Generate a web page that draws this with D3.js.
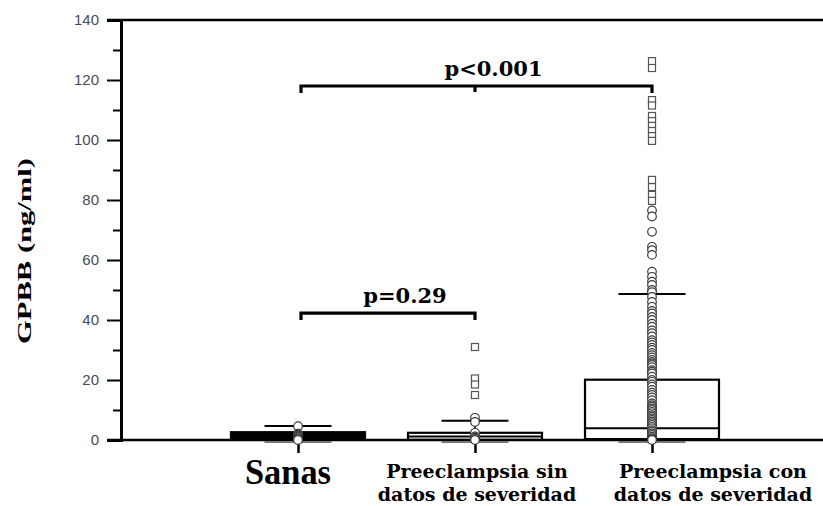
<!DOCTYPE html>
<html>
<head>
<meta charset="utf-8">
<script src="https://cdn.jsdelivr.net/npm/d3@7"></script>
<style>
  body { margin: 0; background: #fff; }
  svg { display: block; }
</style>
</head>
<body>
<div id="chart-area"></div>
<script>
// groups
const categories = ["Sanas", "Preeclampsia sin datos de severidad", "Preeclampsia con datos de severidad"];
const labelLines = [["Sanas"], ["Preeclampsia sin", "datos de severidad"], ["Preeclampsia con", "datos de severidad"]];

// box statistics (ng/ml)
const q1 = [0.2, 0.1, 0.3];
const median = [1.2, 1.2, 3.9];
const q3 = [2.6, 2.4, 20.1];
const whiskerHigh = [4.7, 6.4, 48.7];
const whiskerLow = [-0.7, -0.7, -0.7];

// individual values (circles) and outliers (squares)
const pointsSanas = [4.6, 2.1, 1.8, 1.5, 1.2, 0.9, 0.6, 0.3, 0];
const pointsSin = [7.4, 6.0, 2.4, 1.2, 0.8, 0.4, 0];
const pointsCon = [76.5, 74.5, 69.4, 64.4, 63.3, 61.7, 56.1, 54.4, 52.8, 51.7, 50, 49.3, 47.7,
  46, 44.4, 43, 42.2, 41, 40, 38.8, 37.8, 36.5, 35.6, 34.5, 33.3, 32.5, 31.7, 30.8, 30, 29,
  28.3, 27.5, 26.7, 26, 25.5, 25, 24.3, 23.3, 22.8, 22.2, 21.1, 20, 19.4, 18.5, 17.8, 16.7,
  15.8, 15, 14.2, 13.3, 12.2, 11.6, 11.1, 10.5, 10, 9.4, 8.9, 8.3, 7.8, 7.2, 6.7, 6.1, 5.6,
  5, 4.4, 3.9, 3.3, 2.8, 2.2, 1.7, 1.1, 0.6, 0.3, 0];
const outliersSanas = [];
const outliersSin = [31, 20.5, 18.5, 15];
const outliersCon = [126.3, 124, 113.3, 111.5, 108, 106.3, 104.7, 103, 101.3, 99.7, 86.7, 84.3, 81.7, 79.7];

const points = [pointsSanas, pointsSin, pointsCon];
const outliers = [outliersSanas, outliersSin, outliersCon];

// axis
const yTicks = [0, 20, 40, 60, 80, 100, 120, 140];
const yMinorTicks = [10, 30, 50, 70, 90, 110, 130];

// comparisons
const comparisons = [
  {from: 0, to: 2, mid: 1, value: 118, label: "p<0.001"},
  {from: 0, to: 1, mid: null, value: 42.3, label: "p=0.29"}
];

const boxFill = ["#000", "#fff", "#fff"];

const W = 823, H = 506;
const plotLeft = 121, plotTop = 20, plotBottom = 440;

const svg = d3.select('#chart-area')
  .append('svg')
  .attr('width', W)
  .attr('height', H);

const y = d3.scaleLinear().domain([0, 140]).range([plotBottom, plotTop]);
const x = d3.scalePoint()
  .domain(["_start", ...categories, "_end"])
  .range([plotLeft, 829]);

const step = x.step();
const boxW = step * 0.757;
const capW = boxW / 2;

// frame lines
svg.append('line').attr('x1', 107).attr('x2', W).attr('y1', y(140)).attr('y2', y(140))
  .attr('stroke', '#000').attr('stroke-width', 2.5);
svg.append('line').attr('x1', 107).attr('x2', W).attr('y1', y(0)).attr('y2', y(0))
  .attr('stroke', '#000').attr('stroke-width', 2.5);

// y axis
const yAxis = d3.axisLeft(y).tickValues(yTicks).tickSize(14).tickPadding(8);
const gy = svg.append('g')
  .attr('transform', `translate(${plotLeft},0)`)
  .call(yAxis);
gy.select('.domain').attr('stroke-width', 3);
gy.selectAll('.tick line').attr('stroke-width', 2);
gy.selectAll('.tick text')
  .attr('font-family', 'Arial, "Liberation Sans", sans-serif')
  .attr('font-size', 15)
  .attr('fill', '#4a4a58');

svg.append('g')
  .attr('transform', `translate(${plotLeft},0)`)
  .call(d3.axisLeft(y).tickValues(yMinorTicks).tickSize(8).tickFormat(''))
  .call(g => g.select('.domain').remove())
  .selectAll('.tick line').attr('stroke-width', 2);

// x ticks down at category centers
svg.append('g')
  .attr('transform', `translate(0,${plotBottom})`)
  .call(d3.axisBottom(x).tickValues(categories).tickSize(13).tickFormat(''))
  .call(g => g.select('.domain').remove())
  .selectAll('.tick line').attr('stroke-width', 2.5);

// y title
svg.append('text')
  .attr('transform', `translate(31,${y(63)}) rotate(-90)`)
  .attr('text-anchor', 'middle')
  .attr('font-family', '"Liberation Serif", "Times New Roman", serif')
  .attr('font-weight', 'bold')
  .attr('font-size', 19)
  .attr('textLength', 186)
  .attr('lengthAdjust', 'spacingAndGlyphs')
  .text('GPBB (ng/ml)');

// boxes
const groups = svg.selectAll('.grp')
  .data(categories)
  .enter()
  .append('g')
  .attr('class', 'grp');

groups.each(function(c, i) {
  const g = d3.select(this);
  const cx = x(c);
  // whisker stems
  g.append('line').attr('x1', cx).attr('x2', cx)
    .attr('y1', y(whiskerHigh[i])).attr('y2', y(whiskerLow[i]))
    .attr('stroke', '#000').attr('stroke-width', 1.5);
  // caps
  g.append('line').attr('x1', cx - capW / 2).attr('x2', cx + capW / 2)
    .attr('y1', y(whiskerHigh[i])).attr('y2', y(whiskerHigh[i]))
    .attr('stroke', '#000').attr('stroke-width', 2);
  g.append('line').attr('x1', cx - capW / 2).attr('x2', cx + capW / 2)
    .attr('y1', y(whiskerLow[i])).attr('y2', y(whiskerLow[i]))
    .attr('stroke', '#777').attr('stroke-width', 2);
  // box
  g.append('rect')
    .attr('x', cx - boxW / 2)
    .attr('y', y(q3[i]))
    .attr('width', boxW)
    .attr('height', y(q1[i]) - y(q3[i]))
    .attr('fill', boxFill[i])
    .attr('stroke', '#000').attr('stroke-width', 2.2);
  g.append('line').attr('x1', cx - boxW / 2).attr('x2', cx + boxW / 2)
    .attr('y1', y(median[i])).attr('y2', y(median[i]))
    .attr('stroke', '#000').attr('stroke-width', 2);

  // circles
  g.selectAll('circle')
    .data(points[i])
    .enter()
    .append('circle')
    .attr('cx', cx)
    .attr('cy', d => y(d))
    .attr('r', 4.3)
    .attr('fill', '#fff')
    .attr('stroke', '#3a3a3a')
    .attr('stroke-width', 1.2);

  // outlier squares
  g.selectAll('rect.out')
    .data(outliers[i])
    .enter()
    .append('rect')
    .attr('class', 'out')
    .attr('x', cx - 3.5)
    .attr('y', d => y(d) - 3.5)
    .attr('width', 7)
    .attr('height', 7)
    .attr('fill', '#fff')
    .attr('stroke', '#555')
    .attr('stroke-width', 1.2);
});

// significance brackets
comparisons.forEach(cmp => {
  const x1 = x(categories[cmp.from]) + 3;
  const x2 = x(categories[cmp.to]);
  const yy = y(cmp.value);
  let path = `M${x1},${yy + 7}V${yy}H${x2}V${yy + 7}`;
  if (cmp.mid !== null) {
    const xm = x(categories[cmp.mid]);
    path += `M${xm},${yy}V${yy + 6}`;
  }
  svg.append('path')
    .attr('d', path)
    .attr('fill', 'none')
    .attr('stroke', '#000')
    .attr('stroke-width', 3.2);
  svg.append('text')
    .attr('x', (x1 + x2) / 2 + 17)
    .attr('y', yy - 10)
    .attr('text-anchor', 'middle')
    .attr('font-family', '"DejaVu Serif", serif')
    .attr('font-weight', 'bold')
    .attr('font-size', 21)
    .text(cmp.label);
});

// category labels
const labelShift = [-10, 2, 61];
svg.selectAll('.cat-label')
  .data(categories)
  .enter()
  .append('text')
  .attr('class', 'cat-label')
  .attr('text-anchor', 'middle')
  .attr('font-weight', 'bold')
  .each(function(c, i) {
    const t = d3.select(this);
    const cx = x(c) + labelShift[i];
    if (labelLines[i].length === 1) {
      t.attr('x', cx).attr('y', 484)
        .attr('font-family', '"Liberation Serif", "Times New Roman", serif')
        .attr('font-size', 36)
        .attr('textLength', 86)
        .attr('lengthAdjust', 'spacingAndGlyphs')
        .text(labelLines[i][0]);
    } else {
      t.attr('font-family', '"DejaVu Serif", serif').attr('font-size', 19);
      labelLines[i].forEach((line, k) => {
        t.append('tspan').attr('x', cx).attr('y', 478 + k * 23).text(line);
      });
    }
  });
</script>
</body>
</html>
